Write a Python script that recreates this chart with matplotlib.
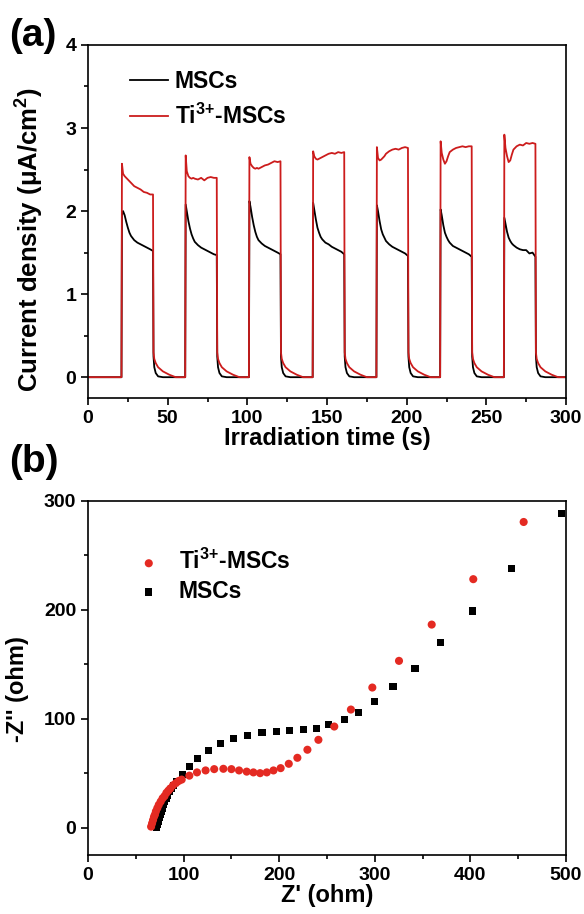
import matplotlib
matplotlib.use("Agg")
import matplotlib.pyplot as plt
from matplotlib.ticker import MultipleLocator

plt.rcParams['font.family'] = ['Liberation Sans', 'DejaVu Sans']
plt.rcParams['font.weight'] = 'bold'
plt.rcParams['mathtext.fontset'] = 'custom'
plt.rcParams['mathtext.rm'] = 'Liberation Sans'
plt.rcParams['mathtext.it'] = 'Liberation Sans'
plt.rcParams['mathtext.bf'] = 'Liberation Sans:bold'

# (a) photocurrent response, light on/off every 20 s
time_s = [
    0, 20.7,
    21, 21.3, 22, 23, 24, 25, 26, 27, 29, 31, 33, 35, 37, 39, 40.8, 41.1, 41.6, 42.5, 44, 47, 51, 55, 60.7,
    61, 61.3, 62, 63, 64, 65, 66, 67, 69, 71, 73, 75, 77, 79, 80.8, 81.1, 81.6, 82.5, 84, 87, 91, 95, 100.7,
    101, 101.3, 102, 103, 104, 105, 106, 107, 109, 111, 113, 115, 117, 119, 120.8, 121.1, 121.6, 122.5, 124, 127, 131, 135, 140.7,
    141, 141.3, 142, 143, 144, 145, 146, 147, 149, 151, 153, 155, 157, 159, 160.8, 161.1, 161.6, 162.5, 164, 167, 171, 175, 180.7,
    181, 181.3, 182, 183, 184, 185, 186, 187, 189, 191, 193, 195, 197, 199, 200.8, 201.1, 201.6, 202.5, 204, 207, 211, 215, 220.7,
    221, 221.3, 222, 223, 224, 225, 226, 227, 229, 231, 233, 235, 237, 239, 240.8, 241.1, 241.6, 242.5, 244, 247, 251, 255, 260.7,
    261, 261.3, 262, 263, 264, 265, 266, 267, 269, 271, 273, 275, 277, 279, 280.8, 281.1, 281.6, 282.5, 284, 287, 291, 295, 300,
]
mscs_j = [
    0, 0,
    0, 1.95, 2.00, 1.95, 1.87, 1.80, 1.74, 1.70, 1.65, 1.62, 1.60, 1.58, 1.56, 1.54, 1.52, 0.25, 0.12, 0.05, 0.01, 0, 0, 0, 0,
    0, 2.08, 2.00, 1.88, 1.79, 1.72, 1.67, 1.63, 1.59, 1.56, 1.54, 1.52, 1.50, 1.48, 1.47, 0.25, 0.12, 0.05, 0.01, 0, 0, 0, 0,
    0, 2.12, 2.05, 1.93, 1.83, 1.75, 1.69, 1.65, 1.61, 1.58, 1.56, 1.54, 1.52, 1.50, 1.48, 0.25, 0.12, 0.05, 0.01, 0, 0, 0, 0,
    0, 2.10, 2.02, 1.90, 1.80, 1.74, 1.69, 1.66, 1.62, 1.60, 1.57, 1.55, 1.53, 1.51, 1.48, 0.25, 0.12, 0.05, 0.01, 0, 0, 0, 0,
    0, 2.07, 2.00, 1.88, 1.78, 1.72, 1.68, 1.64, 1.60, 1.57, 1.55, 1.53, 1.51, 1.49, 1.46, 0.25, 0.12, 0.05, 0.01, 0, 0, 0, 0,
    0, 2.02, 1.95, 1.83, 1.74, 1.69, 1.65, 1.62, 1.58, 1.56, 1.54, 1.52, 1.50, 1.48, 1.45, 0.25, 0.12, 0.05, 0.01, 0, 0, 0, 0,
    0, 1.92, 1.85, 1.75, 1.68, 1.64, 1.61, 1.59, 1.56, 1.54, 1.53, 1.53, 1.49, 1.50, 1.45, 0.25, 0.12, 0.05, 0.01, 0, 0, 0, 0,
]
ti_mscs_j = [
    0, 0,
    0, 2.57, 2.45, 2.42, 2.40, 2.38, 2.36, 2.34, 2.30, 2.28, 2.26, 2.23, 2.22, 2.20, 2.20, 0.30, 0.22, 0.17, 0.12, 0.07, 0.03, 0, 0,
    0, 2.67, 2.48, 2.42, 2.40, 2.39, 2.40, 2.39, 2.38, 2.40, 2.37, 2.40, 2.41, 2.40, 2.40, 0.30, 0.22, 0.17, 0.12, 0.07, 0.03, 0, 0,
    0, 2.65, 2.57, 2.54, 2.52, 2.51, 2.52, 2.51, 2.53, 2.55, 2.56, 2.58, 2.60, 2.59, 2.60, 0.30, 0.22, 0.17, 0.12, 0.07, 0.03, 0, 0,
    0, 2.72, 2.66, 2.63, 2.62, 2.63, 2.64, 2.65, 2.67, 2.69, 2.70, 2.69, 2.71, 2.70, 2.71, 0.30, 0.22, 0.17, 0.12, 0.07, 0.03, 0, 0,
    0, 2.77, 2.64, 2.61, 2.62, 2.64, 2.66, 2.69, 2.72, 2.74, 2.75, 2.74, 2.76, 2.77, 2.76, 0.30, 0.22, 0.17, 0.12, 0.07, 0.03, 0, 0,
    0, 2.84, 2.70, 2.62, 2.57, 2.60, 2.66, 2.71, 2.74, 2.76, 2.77, 2.78, 2.77, 2.78, 2.78, 0.30, 0.22, 0.17, 0.12, 0.07, 0.03, 0, 0,
    0, 2.92, 2.76, 2.66, 2.59, 2.61, 2.68, 2.74, 2.78, 2.80, 2.79, 2.82, 2.81, 2.82, 2.81, 0.30, 0.22, 0.17, 0.12, 0.07, 0.03, 0, 0,
]

# (b) Nyquist plot
mscs_zre = [72, 73, 74, 75, 76, 77, 78, 79, 80, 82, 83, 85, 87, 89, 92.8, 99, 106, 115, 126, 139, 152,
            167, 182, 197, 211, 225, 239, 252, 268, 283, 300, 319, 342, 368.5, 402, 443, 495.5]
mscs_zim = [0.5, 3, 6, 9, 12, 15, 18, 21, 24, 27, 30, 33, 36, 39, 42.2, 49.2, 56.6, 63.9, 71.3, 77.4, 82,
            84.4, 87.2, 88.4, 89, 90, 91.4, 94.5, 99.7, 105.8, 116, 130, 146.5, 169.7, 199, 238, 288.7]
ti_zre = [66, 67, 68, 69, 70, 71, 72.5, 74, 76, 78, 80, 82, 84, 86, 89, 92, 95, 98, 106, 114, 123, 132,
          141.6, 150, 158, 166, 173, 180, 187, 194, 201.5, 210, 219, 229.5, 241, 257.6, 275, 297.4,
          325.3, 359.5, 403, 455.7]
ti_zim = [1, 4, 7, 10, 12, 15, 18, 21, 24, 27, 29, 32, 34, 36, 39, 41, 43, 44.2, 47.8, 50.8, 52.6, 53.8,
          54.1, 53.8, 52.6, 51.5, 50.8, 50.1, 50.8, 52.6, 54.7, 58.7, 64.2, 71.6, 80.7, 92.9, 108.5, 128.7,
          153.2, 186.5, 228.2, 280.7]

ti_label = 'Ti$^{3{+}}$-MSCs'

fig = plt.figure(figsize=(5.84, 9.14), dpi=100)
ax1 = fig.add_axes([0.1507, 0.5646, 0.8185, 0.3862])
ax2 = fig.add_axes([0.1507, 0.0646, 0.8185, 0.3873])

ax1.plot(time_s, mscs_j, color='black', lw=1.3, label='MSCs')
ax1.plot(time_s, ti_mscs_j, color='#cc1c1c', lw=1.3, label=ti_label)
ax1.set_xlim(0, 300)
ax1.set_ylim(-0.25, 4)
ax1.xaxis.set_major_locator(MultipleLocator(50))
ax1.xaxis.set_minor_locator(MultipleLocator(25))
ax1.yaxis.set_major_locator(MultipleLocator(1))
ax1.yaxis.set_minor_locator(MultipleLocator(0.5))
ax1.set_xlabel('Irradiation time (s)', fontsize=17, fontweight='bold', labelpad=0)
ax1.set_ylabel('Current density (μA/cm$^{2}$)', fontsize=18.5, fontweight='bold')
ax1.yaxis.set_label_coords(-0.088, 0.45)
ax1.legend(loc='upper left', bbox_to_anchor=(0.068, 0.954), frameon=False, fontsize=16.5,
           handlelength=1.67, handletextpad=0.3, labelspacing=0.45, borderaxespad=0)

ax2.scatter(ti_zre, ti_zim, s=34, marker='o', color='#e42a22', edgecolors='none', label=ti_label, zorder=3)
ax2.scatter(mscs_zre, mscs_zim, s=26, marker='s', color='black', edgecolors='none', label='MSCs', zorder=2)
ax2.set_xlim(0, 500)
ax2.set_ylim(-25, 300)
ax2.xaxis.set_major_locator(MultipleLocator(100))
ax2.xaxis.set_minor_locator(MultipleLocator(50))
ax2.yaxis.set_major_locator(MultipleLocator(100))
ax2.yaxis.set_minor_locator(MultipleLocator(50))
ax2.set_xlabel("Z' (ohm)", fontsize=17, fontweight='bold', labelpad=0)
ax2.set_ylabel("-Z'' (ohm)", fontsize=17, fontweight='bold')
ax2.yaxis.set_label_coords(-0.123, 0.469)
ax2.legend(loc='upper left', bbox_to_anchor=(0.06, 0.89), frameon=False, fontsize=16.5,
           handletextpad=0.3, labelspacing=0.25, borderaxespad=0, scatterpoints=1)

for ax in (ax1, ax2):
    for sp in ax.spines.values():
        sp.set_linewidth(1.2)
    ax.tick_params(which='both', direction='out', top=False, right=False, width=1.2,
                   labelsize=14)
    ax.tick_params(which='major', length=5)
    ax.tick_params(which='minor', length=3)
    for lab in ax.get_xticklabels() + ax.get_yticklabels():
        lab.set_fontweight('bold')

fig.text(0.015, 0.961, '(a)', fontsize=28, fontweight='bold', va='center', ha='left')
fig.text(0.015, 0.495, '(b)', fontsize=28, fontweight='bold', va='center', ha='left')

fig.savefig('out.png', dpi=100)
